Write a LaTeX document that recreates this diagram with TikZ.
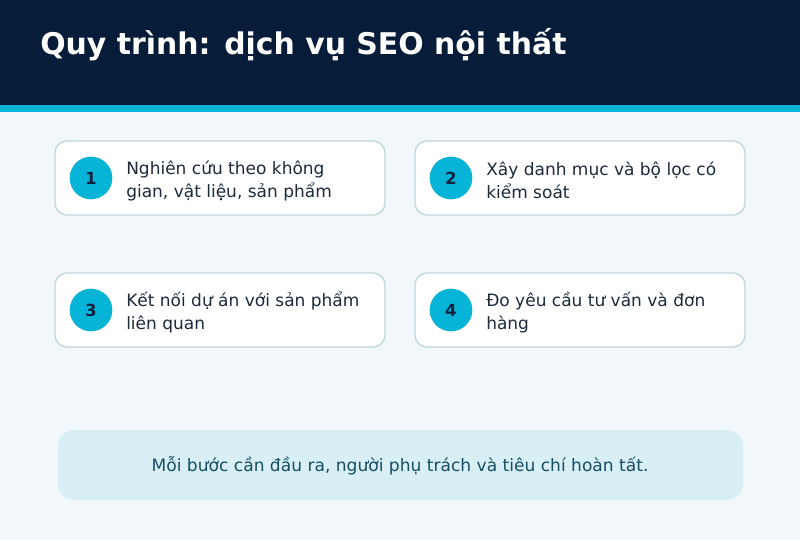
\documentclass[tikz,border=0pt]{standalone}
\usepackage{fontspec}
\setmainfont{DejaVu Sans}
\definecolor{navy}{HTML}{071C38}
\definecolor{stripe}{HTML}{06B4D8}
\definecolor{pagebg}{HTML}{F1F7FA}
\definecolor{cardline}{HTML}{C3D7DF}
\definecolor{numcol}{HTML}{0B2240}
\definecolor{txtcol}{HTML}{1C2A3C}
\definecolor{notefill}{HTML}{D7EFF5}
\definecolor{notetxt}{HTML}{164E63}
\tikzset{
  card/.style={draw=cardline, line width=1.1pt, fill=white, rounded corners=9pt},
  numdot/.style={circle, fill=stripe, minimum size=32pt, inner sep=0pt, text=numcol, font=\bfseries\fontsize{12.5}{14}\selectfont},
  cardtext/.style={anchor=west, align=left, text=txtcol, inner sep=0pt, font=\fontsize{12.75}{17.25}\selectfont},
}
\begin{document}
\begin{tikzpicture}[x=0.75pt,y=-0.75pt]
\useasboundingbox (0,0) rectangle (800,540);
\fill[pagebg] (0,0) rectangle (800,540);
\fill[navy] (0,0) rectangle (800,105);
\fill[stripe] (0,105) rectangle (800,112);
\node[anchor=base west, inner sep=0pt, text=white, font=\bfseries\fontsize{22.4}{26}\selectfont] (title) at (40,54) {Quy trình: dịch vụ SEO nội thất};
% cards
\draw[card] (55,141) rectangle (385,215);
\draw[card] (415,141) rectangle (745,215);
\draw[card] (55,273) rectangle (385,347);
\draw[card] (415,273) rectangle (745,347);
\node[numdot] (n1) at (91,178) {1};
\node[numdot] (n2) at (451,178) {2};
\node[numdot] (n3) at (91,310) {3};
\node[numdot] (n4) at (451,310) {4};
\node[cardtext] (t1) at (126,180.5) {Nghiên cứu theo không\\gian, vật liệu, sản phẩm};
\node[cardtext] (t2) at (486,180.5) {Xây danh mục và bộ lọc có\\kiểm soát};
\node[cardtext] (t3) at (126,312.5) {Kết nối dự án với sản phẩm\\liên quan};
\node[cardtext] (t4) at (486,312.5) {Đo yêu cầu tư vấn và đơn\\hàng};
% note
\fill[notefill, rounded corners=12pt] (58,430) rectangle (743,500);
\node[text=notetxt, font=\fontsize{12.8}{14}\selectfont] (note) at (400,466) {Mỗi bước cần đầu ra, người phụ trách và tiêu chí hoàn tất.};
\end{tikzpicture}
\end{document}
